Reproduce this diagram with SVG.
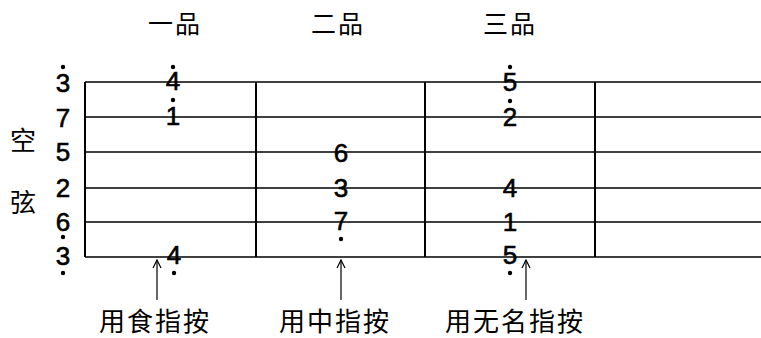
<svg xmlns="http://www.w3.org/2000/svg" width="761" height="338" viewBox="0 0 761 338">
<style>
.cjk{font-family:"Noto Sans CJK SC","Noto Sans CJK JP",sans-serif;fill:#000}
.hd{font-size:25px;letter-spacing:2px;text-anchor:middle}
.lb{font-size:26px;letter-spacing:2px;text-anchor:middle}
.side{font-size:26px;text-anchor:middle}
.n{font-family:"Liberation Sans",Arial,sans-serif;font-size:26px;text-anchor:middle;fill:#000;stroke:#000;stroke-width:0.6}
.h{stroke:#000;stroke-width:1.6;fill:none}
.v{stroke:#000;stroke-width:2;fill:none}
.ar{stroke:#000;stroke-width:1.2;fill:none}
.d{fill:#000}
</style>
<defs>
<marker id="ah" viewBox="0 0 10 10" refX="9" refY="5" markerWidth="10" markerHeight="10" markerUnits="userSpaceOnUse" orient="auto">
<path d="M1,1 L9,5 L1,9" fill="none" stroke="#000" stroke-width="1.2"/>
</marker>
</defs>
<g id="grid">
<line class="h" x1="85" y1="82" x2="761" y2="82"/>
<line class="h" x1="85" y1="117" x2="761" y2="117"/>
<line class="h" x1="85" y1="152" x2="761" y2="152"/>
<line class="h" x1="85" y1="188" x2="761" y2="188"/>
<line class="h" x1="85" y1="222" x2="761" y2="222"/>
<line class="h" x1="85" y1="257" x2="761" y2="257"/>
<line class="v" x1="85" y1="82" x2="85" y2="257"/>
<line class="v" x1="256" y1="82" x2="256" y2="257"/>
<line class="v" x1="425" y1="82" x2="425" y2="257"/>
<line class="v" x1="595" y1="82" x2="595" y2="257"/>
</g>
<g id="headers">
<text class="cjk hd" x="175" y="33">一品</text>
<text class="cjk hd" x="338" y="33">二品</text>
<text class="cjk hd" x="510" y="33">三品</text>
</g>
<g id="side-label">
<text class="cjk side" x="23" y="150">空</text>
<text class="cjk side" x="23" y="212">弦</text>
</g>
<g id="open-strings">
<text class="n" x="63" y="92">3</text><circle class="d" cx="63" cy="67" r="2.2"/>
<text class="n" x="63" y="127">7</text>
<text class="n" x="63" y="161">5</text>
<text class="n" x="63" y="197">2</text>
<text class="n" x="63" y="231">6</text><circle class="d" cx="63" cy="237" r="2.2"/>
<text class="n" x="63" y="265">3</text><circle class="d" cx="63" cy="273" r="2.2"/>
</g>
<g id="fret1">
<text class="n" x="173" y="90">4</text><circle class="d" cx="173" cy="67" r="2.2"/>
<text class="n" x="173" y="125">1</text><circle class="d" cx="173" cy="100" r="2.2"/>
<text class="n" x="174" y="264">4</text><circle class="d" cx="174" cy="273" r="2.2"/>
</g>
<g id="fret2">
<text class="n" x="341" y="162">6</text>
<text class="n" x="341" y="197">3</text>
<text class="n" x="341" y="230">7</text><circle class="d" cx="341" cy="239" r="2.2"/>
</g>
<g id="fret3">
<text class="n" x="510" y="91">5</text><circle class="d" cx="510" cy="67" r="2.2"/>
<text class="n" x="510" y="126">2</text><circle class="d" cx="510" cy="101" r="2.2"/>
<text class="n" x="510" y="197">4</text>
<text class="n" x="510" y="231">1</text>
<text class="n" x="510" y="264">5</text><circle class="d" cx="510" cy="273" r="2.2"/>
</g>
<g id="connectors">
<line class="ar" x1="157" y1="300" x2="157" y2="260" marker-end="url(#ah)"/>
<line class="ar" x1="341" y1="300" x2="341" y2="260" marker-end="url(#ah)"/>
<line class="ar" x1="526" y1="300" x2="526" y2="260" marker-end="url(#ah)"/>
</g>
<g id="labels">
<text class="cjk lb" x="155" y="331">用食指按</text>
<text class="cjk lb" x="335" y="331">用中指按</text>
<text class="cjk lb" x="515" y="331">用无名指按</text>
</g>
</svg>
